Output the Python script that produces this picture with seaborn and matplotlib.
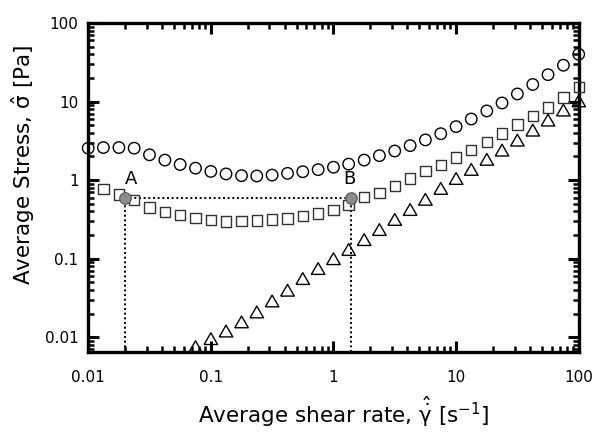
import pandas as pd
import matplotlib
matplotlib.use('Agg')
import matplotlib.pyplot as plt
import seaborn as sns
from matplotlib.ticker import LogLocator, FuncFormatter, NullFormatter

# shear rate grid, 8 points per decade
shear_rate = [0.01, 0.0133, 0.0178, 0.0237, 0.0316, 0.0422, 0.0562, 0.075,
              0.1, 0.133, 0.178, 0.237, 0.316, 0.422, 0.562, 0.75,
              1.0, 1.33, 1.78, 2.37, 3.16, 4.22, 5.62, 7.5,
              10, 13.3, 17.8, 23.7, 31.6, 42.2, 56.2, 75, 100]

# open circles (all 33 rates)
stress_circle = [2.55, 2.6, 2.6, 2.55, 2.1, 1.8, 1.58, 1.42, 1.29, 1.2, 1.14,
                 1.13, 1.16, 1.22, 1.28, 1.36, 1.46, 1.6, 1.8, 2.05, 2.35,
                 2.75, 3.25, 3.9, 4.8, 6.0, 7.6, 9.6, 12.5, 16.5, 22, 29, 40]

# open squares (from the 2nd rate on)
stress_square = [0.77, 0.66, 0.556, 0.45, 0.39, 0.358, 0.327, 0.31, 0.297,
                 0.303, 0.305, 0.316, 0.325, 0.348, 0.377, 0.415, 0.48,
                 0.613, 0.689, 0.839, 1.05, 1.30, 1.55, 1.95, 2.41, 3.08,
                 3.94, 5.12, 6.53, 8.43, 11.3, 15.4]

# open triangles (from the 8th rate on)
stress_triangle = [0.0076, 0.0096, 0.012, 0.0157, 0.021, 0.029, 0.0397,
                   0.0559, 0.075, 0.1, 0.131, 0.175, 0.235, 0.316, 0.423,
                   0.57, 0.784, 1.05, 1.37, 1.84, 2.41, 3.23, 4.33, 5.81,
                   7.79, 10.2]

# marked points A and B
point_labels = ['A', 'B']
point_rate = [0.02, 1.38]
point_stress = [0.6, 0.6]

XLIM = (0.01, 100)
YLIM = (0.0065, 100)


def setup_style():
    sns.set_style('ticks')
    plt.rcParams['font.family'] = ['DejaVu Sans']
    plt.rcParams['mathtext.fontset'] = 'dejavusans'
    plt.rcParams['mathtext.default'] = 'regular'
    for key in ('text.color', 'axes.labelcolor', 'xtick.color', 'ytick.color',
                'axes.edgecolor'):
        plt.rcParams[key] = 'black'


def main():
    setup_style()

    circles = pd.DataFrame({'rate': shear_rate, 'stress': stress_circle})
    squares = pd.DataFrame({'rate': shear_rate[1:], 'stress': stress_square})
    triangles = pd.DataFrame({'rate': shear_rate[-len(stress_triangle):],
                              'stress': stress_triangle})
    points = pd.DataFrame({'label': point_labels, 'rate': point_rate,
                           'stress': point_stress})

    fig = plt.figure(figsize=(5.96, 4.34), dpi=100)
    ax = fig.add_axes([0.148, 0.189, 0.823, 0.758])

    tri = [(-1, -0.866), (1, -0.866), (0, 0.866), (-1, -0.866)]
    common = dict(ax=ax, x='rate', y='stress', facecolor='none',
                  linewidth=1.0, clip_on=False, zorder=4, legend=False)
    sns.scatterplot(data=circles, marker='o', s=68, edgecolor='black', **common)
    sns.scatterplot(data=squares, marker='s', s=56, edgecolor='#333333', **common)
    sns.scatterplot(data=triangles, marker=tri, s=95, edgecolor='black', **common)

    # dotted guide lines from A and B
    dot = dict(color='black', linestyle=(0, (1, 1.4)), linewidth=1.4, zorder=3)
    ax.plot(points['rate'], points['stress'], **dot)
    for r, s in zip(points['rate'], points['stress']):
        ax.plot([r, r], [YLIM[0], s], **dot)

    sns.scatterplot(data=points, x='rate', y='stress', ax=ax, s=70,
                    color='#8c8c8c', edgecolor='#555555', linewidth=0.8,
                    zorder=5, legend=False)
    for _, row in points.iterrows():
        ax.annotate(row['label'], (row['rate'], row['stress']),
                    xytext=(4 if row['label'] == 'A' else -1, 7),
                    textcoords='offset points', ha='center', va='bottom',
                    fontsize=13)

    ax.set_xscale('log')
    ax.set_yscale('log')
    ax.set_xlim(*XLIM)
    ax.set_ylim(*YLIM)

    fmt = FuncFormatter(lambda v, _: '%g' % v)
    for axis in (ax.xaxis, ax.yaxis):
        axis.set_major_locator(LogLocator(base=10, numticks=10))
        axis.set_minor_locator(LogLocator(base=10, subs=range(2, 10), numticks=20))
        axis.set_major_formatter(fmt)
        axis.set_minor_formatter(NullFormatter())

    ax.tick_params(which='major', direction='in', length=8, width=2.2,
                   top=True, right=True, labelsize=11, pad=9)
    ax.tick_params(which='minor', direction='in', length=4.5, width=1.8,
                   top=True, right=True)
    ax.tick_params(axis='x', which='major', pad=13)
    ax.tick_params(axis='y', which='major', pad=7)
    for sp in ax.spines.values():
        sp.set_linewidth(2.4)
        sp.set_color('black')

    ax.set_xlabel(r'Average shear rate, $\hat{\dot{\gamma}}$ [s$^{-1}$]',
                  fontsize=15.5)
    ax.set_ylabel(r'Average Stress, $\hat{\sigma}$ [Pa]', fontsize=15.5)
    ax.xaxis.set_label_coords(0.52, -0.128)
    ax.yaxis.set_label_coords(-0.105, 0.57)

    fig.savefig('out.png', dpi=100)
    plt.close(fig)


if __name__ == '__main__':
    main()
